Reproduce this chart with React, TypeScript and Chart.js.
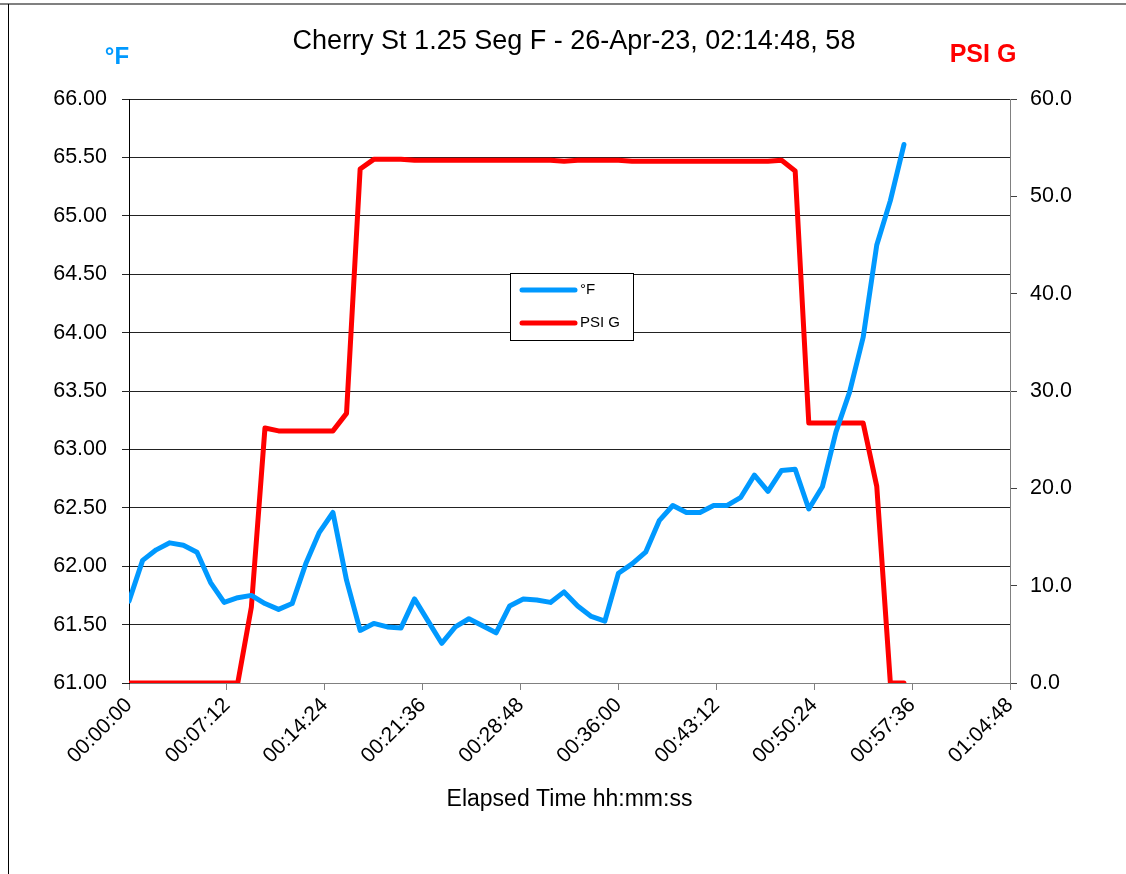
import React, { useEffect, useRef } from "react";
import { Chart, registerables } from "chart.js";

Chart.register(...registerables);

const chartTitle = "Cherry St 1.25 Seg F - 26-Apr-23, 02:14:48, 58";
const xAxisTitle = "Elapsed Time hh:mm:ss";
const leftAxisTitle = "°F";
const rightAxisTitle = "PSI G";

const elapsedSec = [
  0, 60, 120, 180, 240, 300, 360, 420, 480, 540,
  600, 660, 720, 780, 840, 900, 960, 1020, 1080, 1140,
  1200, 1260, 1320, 1380, 1440, 1500, 1560, 1620, 1680, 1740,
  1800, 1860, 1920, 1980, 2040, 2100, 2160, 2220, 2280, 2340,
  2400, 2460, 2520, 2580, 2640, 2700, 2760, 2820, 2880, 2940,
  3000, 3060, 3120, 3180, 3240, 3300, 3360, 3420,
];

const tempF = [
  61.70, 62.05, 62.14, 62.20, 62.18, 62.12, 61.86, 61.69, 61.73, 61.75,
  61.68, 61.63, 61.68, 62.02, 62.29, 62.46, 61.88, 61.45, 61.51, 61.48,
  61.47, 61.72, 61.53, 61.34, 61.48, 61.55, 61.49, 61.43, 61.66, 61.72,
  61.71, 61.69, 61.78, 61.66, 61.57, 61.53, 61.94, 62.02, 62.12, 62.39,
  62.52, 62.46, 62.46, 62.52, 62.52, 62.59, 62.78, 62.64, 62.82, 62.83,
  62.49, 62.68, 63.15, 63.49, 63.96, 64.75, 65.13, 65.61,
];

const psiG = [
  0, 0, 0, 0, 0, 0, 0, 0, 0, 7.8,
  26.2, 25.9, 25.9, 25.9, 25.9, 25.9, 27.7, 52.8, 53.8, 53.8,
  53.8, 53.7, 53.7, 53.7, 53.7, 53.7, 53.7, 53.7, 53.7, 53.7,
  53.7, 53.7, 53.6, 53.7, 53.7, 53.7, 53.7, 53.6, 53.6, 53.6,
  53.6, 53.6, 53.6, 53.6, 53.6, 53.6, 53.6, 53.6, 53.7, 52.6,
  26.7, 26.7, 26.7, 26.7, 26.7, 20.2, 0, 0,
];

const xMin = 0;
const xMax = 3888;
const xStep = 432;
const leftMin = 61;
const leftMax = 66;
const leftStep = 0.5;
const rightMin = 0;
const rightMax = 60;
const rightStep = 10;

const BLUE = "#0099FF";
const RED = "#FF0000";
const FONT = "'Liberation Sans', Arial, sans-serif";

function fmtTime(v: number): string {
  const s = Math.round(v);
  const h = Math.floor(s / 3600);
  const m = Math.floor((s % 3600) / 60);
  const sec = s % 60;
  const p = (n: number) => String(n).padStart(2, "0");
  return `${p(h)}:${p(m)}:${p(sec)}`;
}

const overlayPlugin = {
  id: "overlay",
  afterDraw(chart: any) {
    const ctx = chart.ctx as CanvasRenderingContext2D;
    const area = chart.chartArea;
    ctx.save();
    // frame
    ctx.strokeStyle = "#808080";
    ctx.lineWidth = 2;
    ctx.beginPath();
    ctx.moveTo(0, 4);
    ctx.lineTo(chart.width, 4);
    ctx.stroke();
    ctx.strokeStyle = "#000";
    ctx.lineWidth = 1;
    ctx.beginPath();
    ctx.moveTo(8.5, 4);
    ctx.lineTo(8.5, chart.height);
    ctx.stroke();

    // title
    ctx.fillStyle = "#000";
    ctx.textAlign = "center";
    ctx.textBaseline = "middle";
    ctx.font = `27px ${FONT}`;
    ctx.fillText(chartTitle, 574, 42);

    // axis titles
    ctx.font = `bold 24px ${FONT}`;
    ctx.fillStyle = BLUE;
    ctx.fillText(leftAxisTitle, 117, 57);
    ctx.font = `bold 25px ${FONT}`;
    ctx.fillStyle = RED;
    ctx.fillText(rightAxisTitle, 983, 55);

    // x axis title
    ctx.fillStyle = "#000";
    ctx.font = `23px ${FONT}`;
    ctx.fillText(xAxisTitle, (area.left + area.right) / 2, 800);

    // legend
    const lx = 510.5, ly = 273.5, lw = 123, lh = 67;
    ctx.fillStyle = "#fff";
    ctx.fillRect(lx, ly, lw, lh);
    ctx.strokeStyle = "#000";
    ctx.lineWidth = 1;
    ctx.strokeRect(lx, ly, lw, lh);
    const items = chart.data.datasets;
    const rows = [290, 323];
    ctx.font = `15px ${FONT}`;
    ctx.textAlign = "left";
    items.forEach((ds: any, i: number) => {
      ctx.strokeStyle = ds.borderColor;
      ctx.lineWidth = 5;
      ctx.lineCap = "round";
      ctx.beginPath();
      ctx.moveTo(522, rows[i]);
      ctx.lineTo(575, rows[i]);
      ctx.stroke();
      ctx.fillStyle = "#000";
      ctx.fillText(ds.label, 580, rows[i]);
    });
    ctx.restore();
  },
};

export default function App() {
  const canvasRef = useRef<HTMLCanvasElement | null>(null);

  useEffect(() => {
    if (!canvasRef.current) return;
    const tempData = elapsedSec.map((t, i) => ({ x: t, y: tempF[i] }));
    const psiData = elapsedSec.map((t, i) => ({ x: t, y: psiG[i] }));
    const xFont = { family: FONT, size: 21 };
    const yFont = { family: FONT, size: 21.5 };
    const chart = new Chart(canvasRef.current, {
      type: "line",
      data: {
        datasets: [
          {
            label: leftAxisTitle,
            data: tempData,
            borderColor: BLUE,
            backgroundColor: BLUE,
            borderWidth: 5,
            pointRadius: 0,
            tension: 0,
            yAxisID: "y",
            borderJoinStyle: "round",
            borderCapStyle: "round",
          },
          {
            label: rightAxisTitle,
            data: psiData,
            borderColor: RED,
            backgroundColor: RED,
            borderWidth: 5,
            pointRadius: 0,
            tension: 0,
            yAxisID: "y1",
            borderJoinStyle: "round",
            borderCapStyle: "round",
          },
        ],
      },
      options: {
        responsive: false,
        animation: false,
        layout: { padding: { top: 99, left: 0, right: 0, bottom: 0 } },
        plugins: {
          legend: { display: false },
          title: { display: false },
          tooltip: { enabled: false },
        },
        scales: {
          x: {
            type: "linear",
            min: xMin,
            max: xMax,
            ticks: {
              stepSize: xStep,
              callback: (v: any) => fmtTime(Number(v)),
              maxRotation: 45,
              minRotation: 45,
              font: xFont,
              color: "#000",
              padding: 3,
            },
            grid: { drawOnChartArea: false, drawTicks: true, tickLength: 7, color: "#808080" },
            border: { color: "#808080", width: 1 },
            afterFit: (s: any) => { s.height = 191; },
          },
          y: {
            position: "left",
            min: leftMin,
            max: leftMax,
            ticks: {
              stepSize: leftStep,
              callback: (v: any) => Number(v).toFixed(2),
              font: yFont,
              color: "#000",
              padding: 15,
            },
            grid: { color: "#222", tickLength: 7, lineWidth: 1 },
            border: { color: "#000", width: 1 },
            afterFit: (s: any) => { s.width = 129; },
          },
          y1: {
            position: "right",
            min: rightMin,
            max: rightMax,
            ticks: {
              stepSize: rightStep,
              callback: (v: any) => Number(v).toFixed(1),
              font: yFont,
              color: "#000",
              padding: 13,
            },
            grid: { drawOnChartArea: false, tickLength: 7, color: "#404040" },
            border: { color: "#808080", width: 1 },
            afterFit: (s: any) => { s.width = 116; },
          },
        },
      },
      plugins: [overlayPlugin],
    } as any);
    return () => chart.destroy();
  }, []);

  return (
    <div style={{ position: "fixed", left: 0, top: 0, width: 1126, height: 874, background: "#fff" }}>
      <canvas ref={canvasRef} width={1126} height={874} style={{ display: "block" }} />
    </div>
  );
}
